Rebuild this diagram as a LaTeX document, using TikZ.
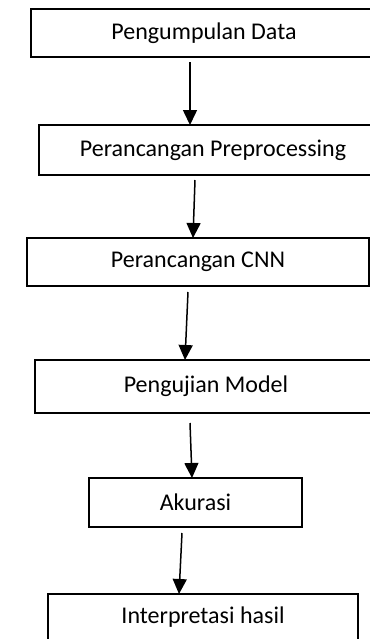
\documentclass[tikz,border=0pt]{standalone}
\usepackage{fontspec}
\setmainfont{Carlito}
\usetikzlibrary{arrows.meta}
\begin{document}
\begin{tikzpicture}[x=0.5pt,y=-0.5pt,
  stepbox/.style={draw=black,line width=0.6pt,inner sep=0pt,
    font=\fontsize{12pt}{14pt}\selectfont,text=black},
  flow/.style={line width=0.75pt,-{Triangle[width=7pt,length=7.5pt]}}]
\useasboundingbox[fill=white] (0,0) rectangle (370,639);
% process boxes (centre, width, height in pixel units)
\node[stepbox,minimum width=173pt,minimum height=24pt]  (b1) at (204,33)    {Pengumpulan Data};
\node[stepbox,minimum width=174pt,minimum height=25pt]  (b2) at (213,150)   {Perancangan Preprocessing};
\node[stepbox,minimum width=171pt,minimum height=24pt]  (b3) at (198,262)   {Perancangan CNN};
\node[stepbox,minimum width=171pt,minimum height=26.5pt](b4) at (206,386.5) {Pengujian Model};
\node[stepbox,minimum width=106.5pt,minimum height=24.5pt](b5) at (195.5,502.5) {Akurasi};
\node[stepbox,minimum width=155pt,minimum height=23pt]  (b6) at (203,617)   {Interpretasi hasil};
% arrow end points
\coordinate (s1) at (190,62);  \coordinate (e1) at (190,125);
\coordinate (s2) at (195,180); \coordinate (e2) at (193,238);
\coordinate (s3) at (188,292); \coordinate (e3) at (185,360);
\coordinate (s4) at (190,423); \coordinate (e4) at (192,478);
\coordinate (s5) at (182,533); \coordinate (e5) at (179,594);
\foreach \i in {1,...,5} \draw[flow] (s\i) -- (e\i);
\end{tikzpicture}
\end{document}
